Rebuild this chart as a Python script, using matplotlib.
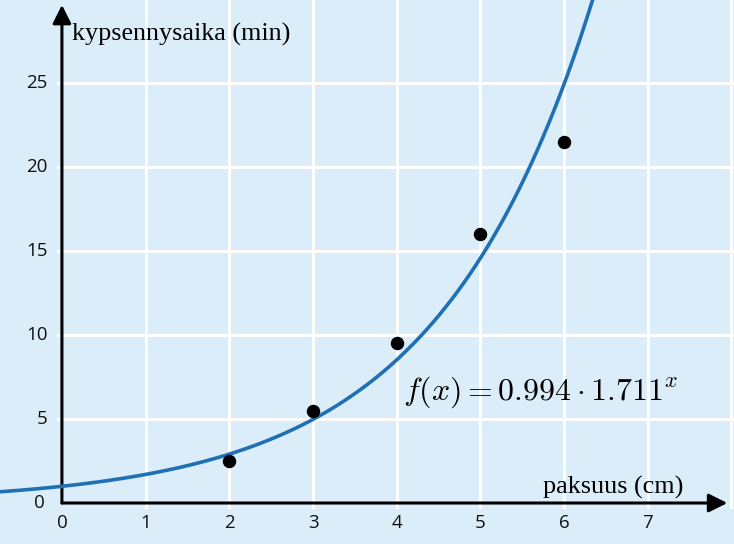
import numpy as np
import matplotlib
matplotlib.use('Agg')
import matplotlib.pyplot as plt

# data
paksuus = [2, 3, 4, 5, 6]
aika = [2.5, 5.5, 9.5, 16.0, 21.5]
a, b = 0.994, 1.711
x_ticks = [0, 1, 2, 3, 4, 5, 6, 7]
y_ticks = [5, 10, 15, 20, 25]

plt.rcParams['mathtext.fontset'] = 'cm'

fig = plt.figure(figsize=(7.34, 5.44), dpi=100)
ax = fig.add_axes([0, 0, 1, 1])
ax.set_facecolor('#dcedfa')
ax.set_xlim(-0.74, 8.03)
ax.set_ylim(-2.44, 29.94)
ax.axis('off')
ax.add_patch(plt.Rectangle((0, 0), 1, 1, transform=ax.transAxes, color='#dcedfa', zorder=0))

# grid only in the first quadrant
for gx in x_ticks[1:] + [8]:
    ax.plot([gx, gx], [-0.25, 30], color='white', lw=2.2, zorder=1)
for gy in y_ticks + [30]:
    ax.plot([-0.05, 8.1], [gy, gy], color='white', lw=2.2, zorder=1)

# axes with arrows
ax.annotate('', xy=(7.95, 0), xytext=(0, 0),
            arrowprops=dict(arrowstyle='-|>', color='black', lw=2.2,
                            mutation_scale=28, shrinkA=0, shrinkB=0), zorder=3)
ax.annotate('', xy=(0, 29.65), xytext=(0, 0),
            arrowprops=dict(arrowstyle='-|>', color='black', lw=2.2,
                            mutation_scale=28, shrinkA=0, shrinkB=0), zorder=3)

# curve and points
xs = np.linspace(-0.8, 6.5, 400)
ax.plot(xs, a * b ** xs, color='#1f70b4', lw=2.6, zorder=4)
ax.scatter(paksuus, aika, s=75, color='black', zorder=5)

# tick labels
tick_font = dict(family='Open Sans', fontsize=13.5, color='#111111')
for tx in x_ticks:
    ax.text(tx, -1.2, str(tx), ha='center', va='center', **tick_font)
ax.text(-0.2, 0, '0', ha='right', va='center', **tick_font)
for ty in y_ticks:
    ax.text(-0.17, ty, str(ty), ha='right', va='center', **tick_font)

# axis titles
ax.text(0.12, 27.9, 'kypsennysaika (min)', family='Liberation Serif', fontsize=18.8,
        ha='left', va='center')
ax.text(7.42, 0.95, 'paksuus (cm)', family='Liberation Serif', fontsize=18.8,
        ha='right', va='center')

ax.text(4.07, 6.6, r'$f(x) = 0.994 \cdot 1.711^{x}$', fontsize=23,
        ha='left', va='center')

fig.savefig('out.png', dpi=100, facecolor='#dcedfa')
